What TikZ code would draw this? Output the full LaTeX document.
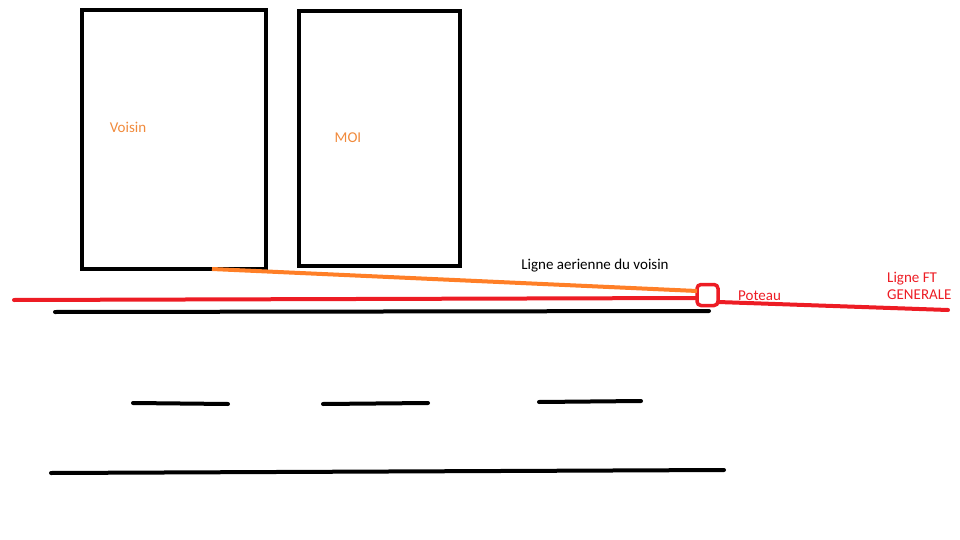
\documentclass[tikz,border=0pt]{standalone}
\usepackage{fontspec}
\setmainfont{Carlito}
\definecolor{paintred}{RGB}{237,28,36}
\definecolor{paintorange}{RGB}{255,127,39}
\definecolor{labelorange}{RGB}{240,138,60}
\tikzset{
    house/.style={draw, line width=4pt, minimum width=#1, anchor=north west},
    road/.style={line width=4pt, line cap=round},
    ftline/.style={paintred, line width=4pt, line cap=round},
    txt/.style={font=\fontsize{15}{17}\selectfont, inner sep=0pt}
}

\begin{document}
\begin{tikzpicture}[x=1pt, y=-1pt]
\useasboundingbox (0,0) rectangle (960,540);
\begin{scope}
    % Define nodes
    \node[house=184pt, minimum height=259pt] (voisin) at (80,8) {};
    \node[house=161pt, minimum height=255pt] (moi) at (297,9) {};
    \node[draw=paintred, line width=3.5pt, rounded corners=4pt,
        minimum size=21pt, inner sep=0pt] (poteau) at (707.5,295) {};
    \coordinate (V1) at (212,269);
    \coordinate (V2) at (697,291);
    \coordinate (R1) at (14,300);
    \coordinate (R2) at (697,298);
    \coordinate (R3) at (718,302);
    \coordinate (R4) at (948,310);
    \coordinate (T1) at (55,312);
    \coordinate (T2) at (709,311);
    \coordinate (B1) at (51,473);
    \coordinate (B2) at (724,470);

    % Labels
    \node[txt, text=labelorange] (lv) at (128,127) {Voisin};
    \node[txt, text=labelorange] (lm) at (348,138) {MOI};
    \node[txt] (la) at (595,266) {Ligne aerienne du voisin};
    \node[txt, text=paintred, anchor=west] (lp) at (738,296) {Poteau};
    \node[txt, text=paintred, align=left, anchor=west] (lf) at (887,286)
        {Ligne FT\\GENERALE};

    % Lines
    \draw[paintorange, line width=4pt] (V1) -- (V2);
    \draw[ftline] (R1) -- (R2);
    \draw[ftline] (R3) -- (R4);
    \draw[road] (T1) -- (T2);
    \draw[road] (B1) -- (B2);
    \foreach \xa/\xb/\ya/\yb in {133/228/403/404, 323/428/404/403, 539/641/402/401}
        \draw[road] (\xa,\ya) -- (\xb,\yb);
\end{scope}

\end{tikzpicture}
\end{document}
